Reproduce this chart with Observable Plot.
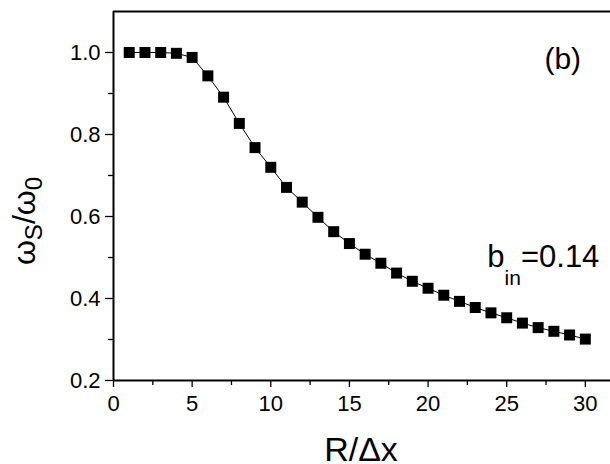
<!DOCTYPE html>
<html><head><meta charset="utf-8">
<script src="https://cdn.jsdelivr.net/npm/d3@7"></script>
<script src="https://cdn.jsdelivr.net/npm/@observablehq/plot@0.6"></script>
<style>html,body{margin:0;padding:0;background:#fff}svg{display:block}</style>
</head><body><div id="chart"></div>
<script>
const rValues = [1,2,3,4,5,6,7,8,9,10,11,12,13,14,15,16,17,18,19,20,21,22,23,24,25,26,27,28,29,30];
const omegaRatio = [1.0,1.0,1.0,0.998,0.988,0.943,0.891,0.827,0.768,0.720,0.671,0.635,0.598,0.563,0.534,0.508,0.486,0.462,0.442,0.425,0.408,0.393,0.378,0.365,0.353,0.340,0.329,0.320,0.311,0.301];
const xMajorTicks = [0,5,10,15,20,25,30];
const xMinorTicks = [2.5,7.5,12.5,17.5,22.5,27.5];
const yMajorTicks = [0.2,0.4,0.6,0.8,1.0];
const yMinorTicks = [0.3,0.5,0.7,0.9];
const xLabel = "R/Δx";
const panelLabel = "(b)";
const paramMain = "b", paramSub = "in", paramValue = "=0.14";

const data = rValues.map((r, i) => ({r, w: omegaRatio[i]}));
const FONT = "'Liberation Sans', Arial, Helvetica, sans-serif";

const plot = Plot.plot({
  width: 610, height: 464,
  marginLeft: 113, marginRight: 0, marginTop: 11, marginBottom: 84,
  x: {domain: [0, 31.6]},
  y: {domain: [0.2, 1.1]},
  style: {fontFamily: FONT, background: "#fff", color: "#000"},
  marks: [
    Plot.axisX({ticks: xMajorTicks, tickSize: 7, tickPadding: 8, fontSize: 22, label: null, tickFormat: d => String(d), strokeWidth: 1.3}),
    Plot.axisX({ticks: xMinorTicks, tickSize: 5, tickFormat: () => "", label: null, strokeWidth: 1.3}),
    Plot.axisY({ticks: yMajorTicks, tickSize: 8, tickPadding: 5, fontSize: 22, tickFormat: d3.format(".1f"), label: null, strokeWidth: 1.3}),
    Plot.axisY({ticks: yMinorTicks, tickSize: 5, tickFormat: () => "", label: null, strokeWidth: 1.3}),
    Plot.ruleY([0.2], {strokeWidth: 2}),
    Plot.ruleX([0], {strokeWidth: 2}),
    Plot.ruleY([1.1], {strokeWidth: 2}),
    Plot.line(data, {x: "r", y: "w", stroke: "black", strokeWidth: 1}),
    Plot.dot(data, {x: "r", y: "w", symbol: "square", r: 6.2, fill: "black", stroke: null}),
    Plot.text([panelLabel], {x: 27.4, y: 0.96, text: d => d, textAnchor: "start", fontSize: 30, lineAnchor: "bottom"})
  ]
});
document.getElementById("chart").appendChild(plot);

const svg = d3.select(plot);
const xs = plot.scale("x"), ys = plot.scale("y");

// parameter annotation with subscript
const t = svg.append("text")
  .attr("x", xs.apply(23.8)).attr("y", ys.apply(0.476))
  .attr("text-anchor", "start")
  .attr("font-family", FONT).attr("font-size", 31).attr("fill", "#000");
t.append("tspan").text(paramMain);
t.append("tspan").attr("font-size", 21).attr("dy", 18).text(paramSub);
t.append("tspan").attr("dy", -18).text(paramValue);

// x label
svg.append("text")
  .attr("x", 361).attr("y", 461)
  .attr("text-anchor", "middle")
  .attr("font-family", FONT).attr("font-size", 34).attr("fill", "#000")
  .text(xLabel);

// y label with subscripts
const yl = svg.append("text")
  .attr("transform", "translate(35,221) rotate(-90)")
  .attr("text-anchor", "middle")
  .attr("font-family", FONT).attr("font-size", 32).attr("fill", "#000");
yl.append("tspan").text("ω");
yl.append("tspan").attr("font-size", 24).attr("dy", 7).text("S");
yl.append("tspan").attr("dy", -7).text("/ω");
yl.append("tspan").attr("font-size", 24).attr("dy", 7).text("0");
</script>
</body></html>
